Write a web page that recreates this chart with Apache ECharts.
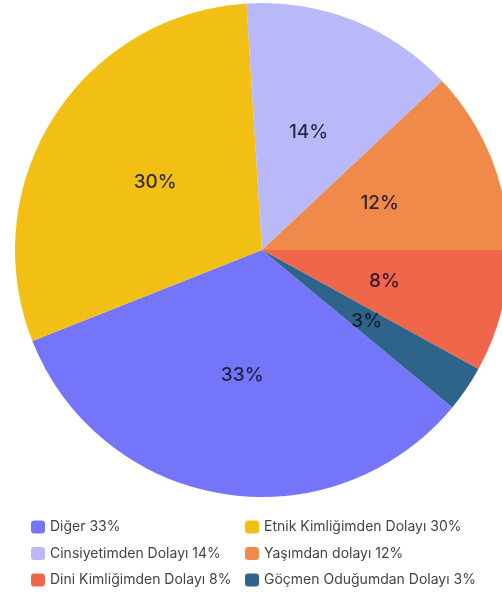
<!DOCTYPE html>
<html>
<head>
<meta charset="utf-8">
<script src="https://cdn.jsdelivr.net/npm/echarts@6/dist/echarts.min.js"></script>
<style>
  html, body { margin: 0; padding: 0; background: #fff; }
  #chart { width: 502px; height: 593px; }
</style>
</head>
<body>
<div id="chart"></div>
<script>
var names = ["Diğer", "Etnik Kimliğimden Dolayı", "Cinsiyetimden Dolayı", "Yaşımdan dolayı", "Dini Kimliğimden Dolayı", "Göçmen Oduğumdan Dolayı"];
var values = [33, 30, 14, 12, 8, 3];
var colors = ["#7575F9", "#F2C014", "#B9B9F9", "#F08A4B", "#F0664B", "#2E6489"];

var el = document.getElementById("chart");
var myChart = echarts.init(el);

var pieData = names.map(function (n, i) {
    return { name: n, value: values[i], itemStyle: { color: colors[i] } };
});

function legendText(name) {
    var i = names.indexOf(name);
    return name + " " + values[i] + "%";
}

var legendBase = {
    orient: "vertical",
    icon: "roundRect",
    itemWidth: 14,
    itemHeight: 13,
    itemGap: 12.5,
    formatter: legendText,
    textStyle: { fontFamily: "Inter", fontSize: 14, lineHeight: 13, color: "#444" },
    selectedMode: false
};

myChart.setOption({
    animation: false,
    legend: [
        Object.assign({}, legendBase, { left: 26, top: 515, data: [names[0], names[2], names[4]] }),
        Object.assign({}, legendBase, { left: 240, top: 515, data: [names[1], names[3], names[5]] })
    ],
    series: [{
        type: "pie",
        center: [262, 250],
        radius: 247,
        startAngle: -39.6,
        clockwise: true,
        label: {
            position: "inside",
            formatter: "{c}%",
            fontFamily: "Inter",
            fontSize: 19,
            fontWeight: 500,
            color: "rgba(15,15,40,0.85)"
        },
        labelLine: { show: false },
        itemStyle: { borderWidth: 0 },
        emphasis: { disabled: true },
        data: pieData
    }]
});
</script>
</body>
</html>
